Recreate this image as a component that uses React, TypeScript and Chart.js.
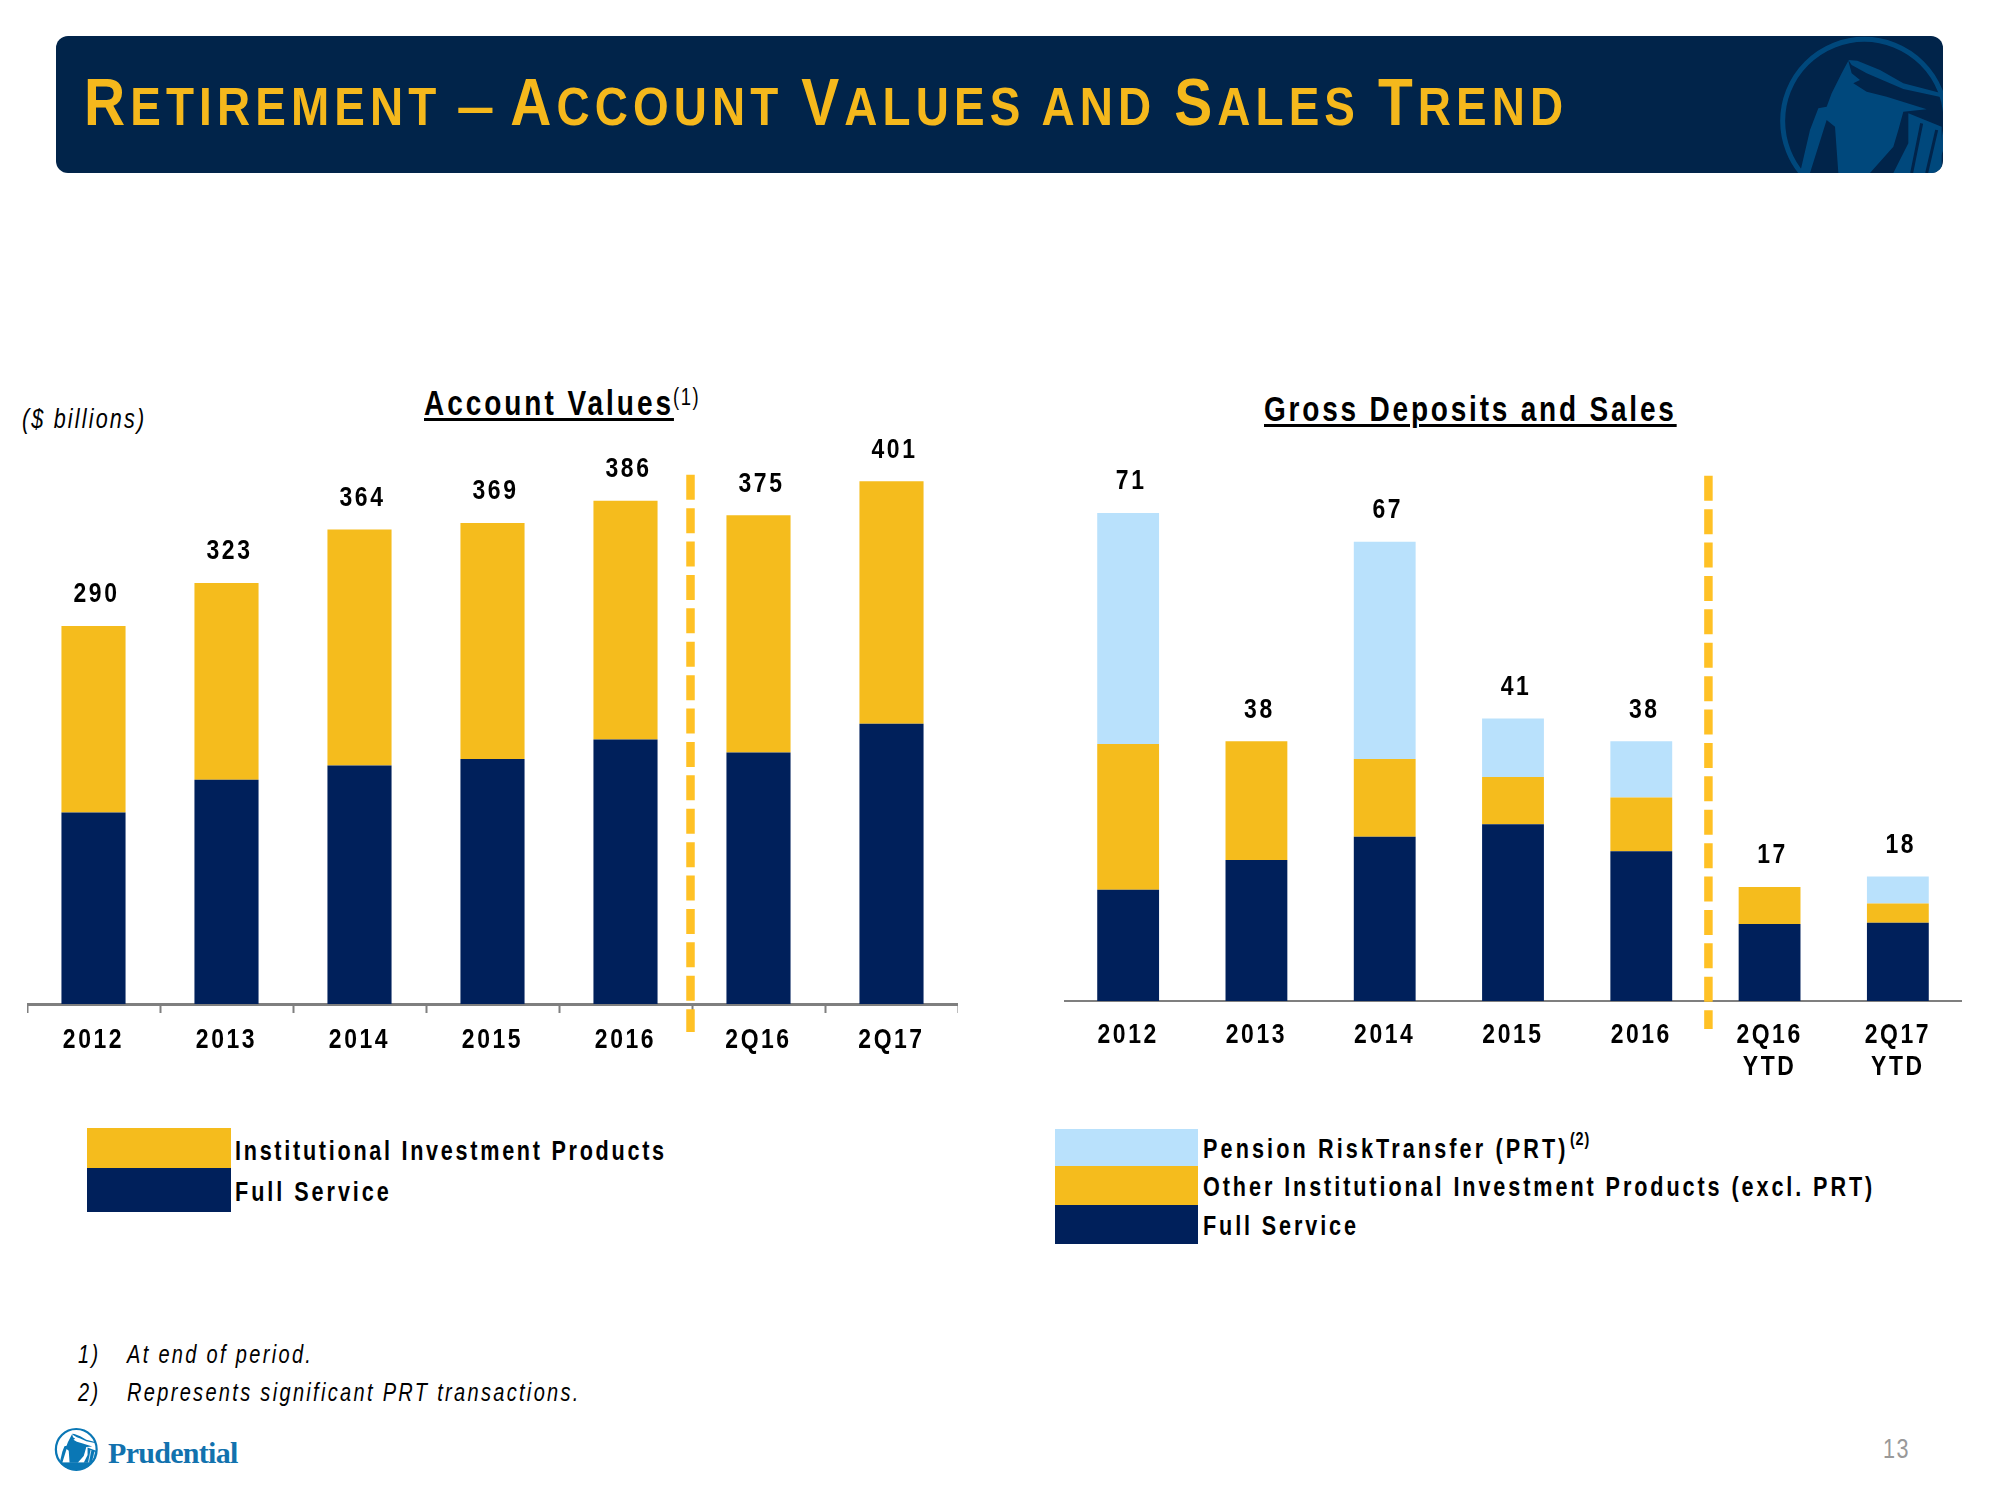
import React, { useEffect, useRef } from "react";
import { Chart, registerables } from "chart.js";

Chart.register(...registerables);

const SANS = '"Liberation Sans", Arial, sans-serif';
const NAVY = "#00205B";
const GOLD = "#F5BC1D";
const SKY = "#B9E1FC";

const valueCategories = ["2012", "2013", "2014", "2015", "2016", "2Q16", "2Q17"];
const valueFullService = [147, 172, 183, 188, 203, 193, 215];
const valueInstitutional = [143, 151, 181, 181, 183, 182, 186];
const valueTotals = [290, 323, 364, 369, 386, 375, 401];

const salesCategories: (string | string[])[] = ["2012", "2013", "2014", "2015", "2016", ["2Q16", "YTD"], ["2Q17", "YTD"]];
const salesFullService = [16.2, 20.5, 23.9, 25.7, 21.8, 11.2, 11.4];
const salesOther = [21.2, 17.3, 11.3, 6.9, 7.8, 5.4, 2.8];
const salesPrt = [33.6, 0, 31.6, 8.5, 8.2, 0, 3.9];
const salesTotals = [71, 38, 67, 41, 38, 17, 18];

const totalLabels = {
  id: "totalLabels",
  afterDatasetsDraw(chart: any, _a: any, opts: any) {
    const { ctx, scales } = chart;
    ctx.save();
    ctx.font = `bold 27px ${SANS}`;
    ctx.fillStyle = "#000";
    ctx.textAlign = "center";
    ctx.textBaseline = "alphabetic";
    opts.totals.forEach((t: number, i: number) => {
      const stackTop = chart.getDatasetMeta(chart.data.datasets.length - 1).data[i].y;
      ctx.fillText(String(t), scales.x.getPixelForValue(i) + 3, stackTop - 23.5);
    });
    ctx.restore();
  },
};

const divider = {
  id: "divider",
  afterDatasetsDraw(chart: any, _a: any, opts: any) {
    const { ctx, scales } = chart;
    const x = (scales.x.getPixelForValue(4) + scales.x.getPixelForValue(5)) / 2 + opts.shift;
    ctx.save();
    ctx.strokeStyle = "#FFC125";
    ctx.lineWidth = 8.5;
    ctx.setLineDash([25, 8.4]);
    ctx.beginPath();
    ctx.moveTo(x, scales.y.getPixelForValue(opts.fromValue));
    ctx.lineTo(x, chart.chartArea.bottom + 28);
    ctx.stroke();
    ctx.restore();
  },
};

// The reference's type is a condensed, tracked sans: every canvas string is drawn squeezed and tracked.
const condensedText = {
  id: "condensedText",
  beforeInit(chart: any) {
    const ctx = chart.ctx;
    const fill = ctx.fillText.bind(ctx);
    ctx.fillText = (s: string, x: number, y: number) => {
      ctx.save();
      ctx.translate(x, y);
      ctx.scale(0.85, 1);
      fill(s, 0, 0);
      ctx.restore();
    };
  },
  beforeDraw(chart: any) {
    chart.ctx.letterSpacing = "3px";
  },
};

function BarChart(props: any) {
  const ref = useRef<HTMLCanvasElement>(null);
  useEffect(() => {
    const chart = new Chart(ref.current!, {
      type: "bar",
      data: { labels: props.labels, datasets: props.datasets },
      plugins: [condensedText, totalLabels, divider],
      options: {
        animation: false,
        responsive: false,
        maintainAspectRatio: false,
        layout: { padding: 0 },
        datasets: { bar: { barPercentage: props.barPct, categoryPercentage: 1 } },
        plugins: {
          legend: { display: false },
          tooltip: { enabled: false },
          totalLabels: { totals: props.totals },
          divider: { fromValue: props.dividerFrom, shift: props.shift },
        } as any,
        scales: {
          y: { display: false, stacked: true, min: 0, max: props.yMax },
          x: {
            stacked: true,
            offset: true,
            afterFit(s: any) { s.height = props.axisH; },
            border: { color: "#7F7F7F", width: props.axisW },
            grid: {
              drawOnChartArea: false,
              drawTicks: props.ticks,
              offset: true,
              tickLength: 9,
              tickWidth: 2,
              tickColor: (c: any) => (c.index === 7 ? "transparent" : "#7F7F7F"),
            },
            ticks: {
              color: "#000",
              maxRotation: 0,
              padding: props.tickPad,
              font: { family: SANS, size: 27, weight: "bold", lineHeight: 1.185 },
            },
          },
        },
      },
    } as any);
    return () => chart.destroy();
  }, []);
  return (
    <canvas
      ref={ref}
      width={props.w}
      height={props.h}
      style={{ position: "absolute", left: props.x, top: props.y, width: props.w, height: props.h }}
    />
  );
}

function T(props: any) {
  const { x, y, size, children, weight, italic, color, ls, font, extra, s } = props;
  return (
    <div
      style={{
        position: "absolute",
        left: x,
        top: y - size,
        height: size * 2,
        lineHeight: `${size * 2}px`,
        fontFamily: font || SANS,
        fontSize: size,
        fontWeight: weight || "normal",
        fontStyle: italic ? "italic" : "normal",
        color: color || "#000",
        letterSpacing: ls === undefined ? 3 : ls,
        whiteSpace: "pre",
        transform: `scaleX(${s === undefined ? 0.8 : s})`,
        transformOrigin: "left center",
        ...(extra || {}),
      }}
    >
      {children}
    </div>
  );
}

function Swatches(props: any) {
  return (
    <>
      {props.items.map((s: any, i: number) => (
        <div key={i} style={{ position: "absolute", left: props.x, top: s[0], width: props.w, height: s[1] - s[0], background: s[2] }} />
      ))}
    </>
  );
}

function Rock(props: any) {
  return (
    <g>
      <path d="M235 90 L262 92 L330 120 L400 160 L515 190 L515 202 L400 177 L330 147 L290 130 L245 105 Z" fill={props.c} />
      <path d="M235 92 L245 130 L270 150 L250 160 L290 185 L350 200 L470 238 L400 245 L385 300 L370 350 L300 429 L205 429 L195 290 L170 270 L120 429 L90 429 L120 300 L145 235 L170 230 L185 190 L215 130 Z" fill={props.c} />
      <path d="M415 250 L515 290 L515 429 L370 429 L415 340 Z" fill={props.c} />
      <path d="M455 280 L425 429 M500 300 L470 429" stroke={props.bg} strokeWidth="9" fill="none" />
    </g>
  );
}

const CAP = { fontSize: 67 };
const UNDERLINE = { textDecoration: "underline", textDecorationThickness: 3, textUnderlineOffset: 3 };

export default function App() {
  return (
    <div style={{ position: "absolute", left: 0, top: 0, width: 2000, height: 1500, background: "#fff", overflow: "hidden" }}>
      <div style={{ position: "absolute", left: 56, top: 36, width: 1887, height: 137, background: "#01244A", borderRadius: 12, overflow: "hidden" }}>
        <svg width="180" height="150" viewBox="0 0 540 450" style={{ position: "absolute", left: 1714, top: -6 }}>
          <circle cx="283" cy="273" r="245" fill="none" stroke="#00487C" strokeWidth="15" />
          <Rock c="#00487C" bg="#01244A" />
        </svg>
      </div>
      <div style={{ position: "absolute", left: 84, top: 62, height: 80, lineHeight: "80px", color: "#F5B81C", fontFamily: SANS, fontWeight: "bold", fontSize: 54, letterSpacing: 6, whiteSpace: "pre", transform: "scaleX(0.85)", transformOrigin: "left center" }}>
        <span style={CAP}>R</span>ETIREMENT <span style={{ display: "inline-block", transform: "scaleX(1.5)", margin: "0 18px 0 6px" }}>–</span><span style={CAP}>A</span>CCOUNT <span style={CAP}>V</span>ALUES AND <span style={CAP}>S</span>ALES <span style={CAP}>T</span>REND
      </div>

      <T x={22} y={419} size={27} italic ls={2.7}>($ billions)</T>
      <T x={424} y={403} size={35} weight="bold" ls={3.7} extra={UNDERLINE}>Account Values</T>
      <T x={673} y={397} size={23} ls={2}>(1)</T>
      <T x={1264} y={409} size={35} weight="bold" ls={3.5} extra={UNDERLINE}>Gross Deposits and Sales</T>

      <BarChart
        x={27} y={420} w={931} h={650}
        labels={valueCategories}
        totals={valueTotals}
        yMax={448} axisH={66} axisW={3} ticks={true} tickPad={12}
        barPct={0.482} dividerFrom={406} shift={-1.5}
        datasets={[
          { label: "Full Service", data: valueFullService, backgroundColor: NAVY },
          { label: "Institutional Investment Products", data: valueInstitutional, backgroundColor: GOLD },
        ]}
      />
      <BarChart
        x={1064} y={451} w={898} h={640}
        labels={salesCategories}
        totals={salesTotals}
        yMax={80} axisH={90} axisW={2} ticks={false} tickPad={19}
        barPct={0.482} dividerFrom={76.4} shift={3}
        datasets={[
          { label: "Full Service", data: salesFullService, backgroundColor: NAVY },
          { label: "Other Institutional Investment Products (excl. PRT)", data: salesOther, backgroundColor: GOLD },
          { label: "Pension Risk Transfer (PRT)", data: salesPrt, backgroundColor: SKY },
        ]}
      />

      <Swatches x={87} w={144} items={[[1128, 1167.5, GOLD], [1167.5, 1212, NAVY]]} />
      <T x={235} y={1151} size={27} weight="bold" ls={3.4}>Institutional Investment Products</T>
      <T x={235} y={1192} size={27} weight="bold" ls={3.7}>Full Service</T>

      <Swatches x={1055} w={143} items={[[1129, 1166, SKY], [1166, 1205, GOLD], [1205, 1244, NAVY]]} />
      <T x={1203} y={1149} size={27} weight="bold" ls={3.9}>Pension RiskTransfer (PRT)</T>
      <T x={1570} y={1139} size={18} weight="bold" ls={1}>(2)</T>
      <T x={1203} y={1187} size={27} weight="bold" ls={3.65}>Other Institutional Investment Products (excl. PRT)</T>
      <T x={1203} y={1226} size={27} weight="bold" ls={3.6}>Full Service</T>

      <T x={78} y={1354} size={25} italic ls={2.9}>1)</T>
      <T x={127} y={1354} size={25} italic ls={2.9}>At end of period.</T>
      <T x={78} y={1392} size={25} italic ls={2.9}>2)</T>
      <T x={127} y={1392} size={25} italic ls={2.9}>Represents significant PRT transactions.</T>

      <svg width="46.3" height="45.4" viewBox="0 0 540 530" style={{ position: "absolute", left: 51.7, top: 1426.1 }}>
        <defs>
          <clipPath id="logoClip"><circle cx="283" cy="273" r="245" /></clipPath>
        </defs>
        <g clipPath="url(#logoClip)">
          <Rock c="#0A77B5" bg="#fff" />
          <rect x="0" y="425" width="540" height="110" fill="#0A77B5" />
        </g>
        <circle cx="283" cy="273" r="238" fill="none" stroke="#0A77B5" strokeWidth="26" />
      </svg>
      <T x={108} y={1453} size={30} weight="bold" font='"Liberation Serif", serif' color="#1272AE" ls={-0.7} s={1}>Prudential</T>
      <T x={1883} y={1449} size={27} color="#999999" ls={2}>13</T>
    </div>
  );
}
